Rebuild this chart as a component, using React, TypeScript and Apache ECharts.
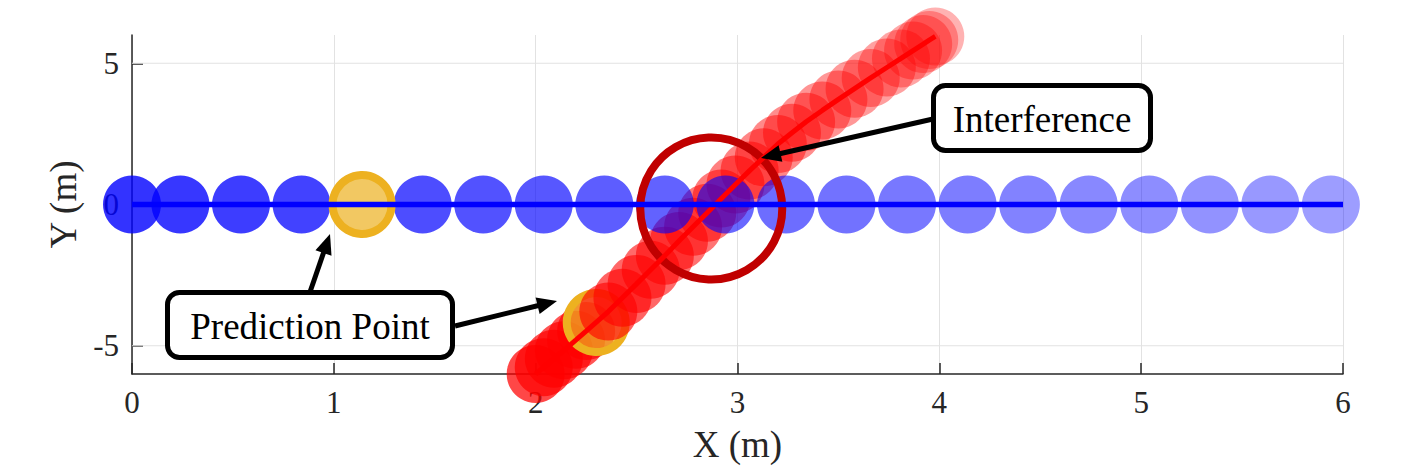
import React, { useEffect, useRef } from "react";
import * as echarts from "echarts";

// ---- data ----
const xTicks = [0, 1, 2, 3, 4, 5, 6];
const yTicks = [-5, 0, 5];

// blue agent: moves along y = 0
const blueX = [0, 0.24, 0.54, 0.84, 1.44, 1.74, 2.04, 2.34, 2.64, 2.94, 3.24, 3.54, 3.84, 4.14, 4.44, 4.74, 5.04, 5.34, 5.64, 5.94];
const blueY = [0, 0, 0, 0, 0, 0, 0, 0, 0, 0, 0, 0, 0, 0, 0, 0, 0, 0, 0, 0];
const bluePathX = [0, 6];
const bluePathY = [0, 0];

// red agent: moves diagonally from (2,-6) to (4,6)
const redX = [2.0, 2.04, 2.09, 2.14, 2.2, 2.25, 2.36, 2.43, 2.5, 2.57, 2.64, 2.71, 2.78, 2.85, 2.92, 2.99, 3.06, 3.13, 3.2, 3.27, 3.34, 3.42, 3.5, 3.58, 3.66, 3.74, 3.81, 3.87, 3.92, 3.95, 3.98];
const redY = [-6.0, -5.76, -5.46, -5.16, -4.79, -4.48, -3.79, -3.3, -2.81, -2.31, -1.81, -1.29, -0.79, -0.29, 0.21, 0.71, 1.2, 1.67, 2.14, 2.54, 2.93, 3.33, 3.72, 4.1, 4.48, 4.85, 5.17, 5.45, 5.68, 5.82, 5.95];

// prediction points (blue agent, red agent)
const predX = [1.14, 2.3];
const predY = [0, -4.18];
const predRedIndex = 6; // red circles from this index are drawn over the red prediction point

// interference zone
const zoneX = [2.87];
const zoneY = [-0.14];

// annotations
const annotationTexts = ["Prediction Point", "Interference"];

// ---- styles ----
const FONT = "'Liberation Serif', 'Times New Roman', Times, serif";
const AXIS_COLOR = "#262626";
const GRID_COLOR = "#e2e2e2";
const CIRCLE = 58;

function arrow(tail: number[], tip: number[]) {
  const dx = tip[0] - tail[0];
  const dy = tip[1] - tail[1];
  const len = Math.sqrt(dx * dx + dy * dy);
  const ux = dx / len;
  const uy = dy / len;
  const hl = 20;
  const hw = 8.5;
  const bx = tip[0] - ux * hl;
  const by = tip[1] - uy * hl;
  return [
    {
      type: "line",
      z: 100,
      shape: { x1: tail[0], y1: tail[1], x2: bx + ux * 2, y2: by + uy * 2 },
      style: { stroke: "#000", lineWidth: 5 },
    },
    {
      type: "polygon",
      z: 100,
      shape: {
        points: [
          [tip[0], tip[1]],
          [bx - uy * hw, by + ux * hw],
          [bx + uy * hw, by - ux * hw],
        ],
      },
      style: { fill: "#000" },
    },
  ];
}

function box(x: number, y: number, w: number, h: number, text: string) {
  return [
    {
      type: "rect",
      z: 100,
      shape: { x: x + 2.5, y: y + 2.5, width: w - 5, height: h - 5, r: 12 },
      style: { fill: "#fff", stroke: "#000", lineWidth: 5 },
    },
    {
      type: "text",
      z: 101,
      x: x + w / 2,
      y: y + h / 2 + 1,
      style: {
        text,
        fill: "#000",
        font: `37px ${FONT}`,
        align: "center",
        verticalAlign: "middle",
      },
    },
  ];
}

export default function App() {
  const ref = useRef<HTMLDivElement>(null);

  useEffect(() => {
    if (!ref.current) return;
    const chart = echarts.init(ref.current, undefined, { renderer: "svg" });

    const nRed = redX.length + 1;
    const redAlpha = (i: number) => 0.72 - (0.42 * i) / (nRed - 1);
    const redPts = redX.map((x, i) => {
      const order = i < predRedIndex ? i : i + 1;
      return {
        value: [x, redY[i]],
        itemStyle: { color: `rgba(255,0,0,${redAlpha(order).toFixed(3)})`, opacity: 1 },
      };
    });
    const bluePts = blueX.map((x, i) => ({
      value: [x, blueY[i]],
      itemStyle: { color: `rgba(0,0,255,${(0.8 - 0.07 * x).toFixed(3)})`, opacity: 1 },
    }));

    const scatterBase = {
      type: "scatter",
      symbol: "circle",
      symbolSize: CIRCLE,
      clip: false,
      silent: true,
      emphasis: { disabled: true },
      itemStyle: { opacity: 1 },
    };
    const predStyle = {
      color: "rgba(237,177,32,0.7)",
      borderColor: "#EDB120",
      borderWidth: 8,
      opacity: 1,
    };

    const gridLines = yTicks.map((v) => ({
      type: "line",
      z: 1,
      silent: true,
      symbol: "none",
      clip: false,
      data: [
        [xTicks[0], v],
        [xTicks[xTicks.length - 1], v],
      ],
      lineStyle: { color: GRID_COLOR, width: 1 },
    }));

    const option = {
      animation: false,
      backgroundColor: "#ffffff",
      grid: { left: 132, right: 59, top: 35, bottom: 93 },
      xAxis: {
        type: "value",
        min: 0,
        max: 6,
        interval: 1,
        name: "X (m)",
        nameLocation: "middle",
        nameGap: 52,
        nameTextStyle: { fontFamily: FONT, fontSize: 37, color: AXIS_COLOR },
        axisLine: { show: true, onZero: false, lineStyle: { color: AXIS_COLOR, width: 1.5 } },
        axisTick: { show: true, inside: true, length: 11, lineStyle: { color: AXIS_COLOR, width: 1.5 } },
        axisLabel: { fontFamily: FONT, fontSize: 31, color: AXIS_COLOR, margin: 13 },
        splitLine: { show: true, lineStyle: { color: GRID_COLOR, width: 1 } },
      },
      yAxis: {
        type: "value",
        min: -6,
        max: 6,
        name: "Y (m)",
        nameLocation: "middle",
        nameGap: 35,
        nameRotate: 90,
        nameTextStyle: { fontFamily: FONT, fontSize: 37, color: AXIS_COLOR },
        axisLine: { show: true, onZero: false, lineStyle: { color: AXIS_COLOR, width: 1.5 } },
        axisTick: { show: true, inside: true, length: 11, customValues: yTicks, lineStyle: { color: AXIS_COLOR, width: 1.5 } },
        axisLabel: { fontFamily: FONT, fontSize: 31, color: AXIS_COLOR, margin: 13, customValues: yTicks },
        splitLine: { show: false },
      },
      series: [
        ...gridLines,
        { ...scatterBase, name: "red-a", data: redPts.slice(0, predRedIndex) },
        {
          ...scatterBase,
          name: "red-pred",
          symbolSize: CIRCLE + 1,
          data: [[predX[1], predY[1]]],
          itemStyle: predStyle,
        },
        { ...scatterBase, name: "red-b", data: redPts.slice(predRedIndex) },
        {
          type: "line",
          name: "red-path",
          symbol: "none",
          clip: false,
          silent: true,
          data: redX.map((x, i) => [x, redY[i]]),
          lineStyle: { color: "#ff0000", width: 5 },
        },
        { ...scatterBase, name: "blue", data: bluePts },
        {
          type: "line",
          name: "blue-path",
          symbol: "none",
          clip: false,
          silent: true,
          data: bluePathX.map((x, i) => [x, bluePathY[i]]),
          lineStyle: { color: "#0000ff", width: 5.5 },
        },
        {
          ...scatterBase,
          name: "blue-pred",
          symbolSize: CIRCLE + 1,
          data: [[predX[0], predY[0]]],
          itemStyle: predStyle,
        },
        {
          ...scatterBase,
          name: "zone",
          symbolSize: 142,
          data: zoneX.map((x, i) => [x, zoneY[i]]),
          itemStyle: { color: "rgba(0,0,0,0)", borderColor: "#c00000", borderWidth: 8, opacity: 1 },
        },
      ],
      graphic: [
        ...arrow([310, 292], [330, 234]),
        ...arrow([455, 326], [557, 301]),
        ...arrow([933, 119], [761, 158]),
        ...box(165, 290, 290, 70, annotationTexts[0]),
        ...box(931, 83, 222, 70, annotationTexts[1]),
      ],
    };

    chart.setOption(option as any);
    return () => chart.dispose();
  }, []);

  return (
    <div
      ref={ref}
      style={{ position: "fixed", left: 0, top: 0, width: 1402, height: 468, background: "#fff" }}
    />
  );
}
